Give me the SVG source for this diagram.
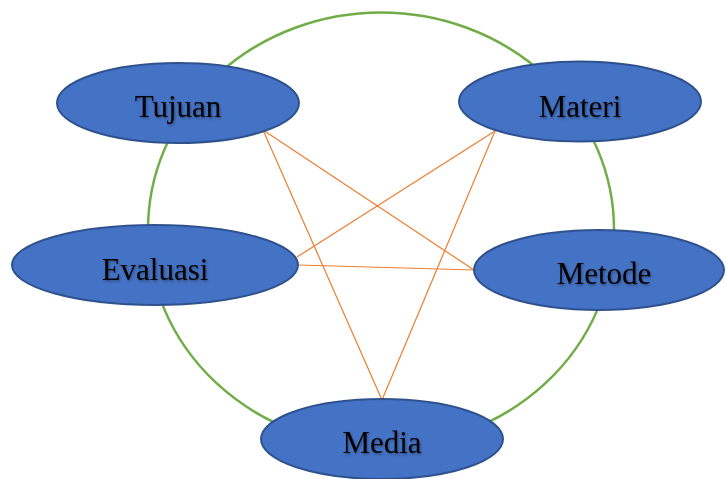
<svg xmlns="http://www.w3.org/2000/svg" width="726" height="479" viewBox="0 0 726 479">
<defs>
<style>
.ring{fill:none;stroke:#70AD47;stroke-width:2.5}
.edge{stroke:#ED7D31;stroke-width:1.2;fill:none}
.node ellipse{fill:#4472C4;stroke:#2F528F;stroke-width:2}
.node text{font-family:"Liberation Serif","Times New Roman",serif;font-size:31px;fill:#000;text-anchor:middle;filter:url(#sh)}
</style>
<filter id="sh" x="-10%" y="-20%" width="130%" height="150%">
<feDropShadow dx="1" dy="1.5" stdDeviation="0.8" flood-color="#000" flood-opacity="0.35"/>
</filter>
</defs>
<rect width="726" height="479" fill="#fff"/>
<ellipse class="ring" cx="381" cy="229.5" rx="233" ry="217"/>
<g id="connectors">
<line class="edge" x1="263" y1="130" x2="474" y2="270"/>
<line class="edge" x1="263" y1="130" x2="382" y2="400"/>
<line class="edge" x1="495" y1="131" x2="297" y2="257"/>
<line class="edge" x1="495" y1="131" x2="382" y2="400"/>
<line class="edge" x1="299" y1="265" x2="474" y2="270"/>
</g>
<g id="tujuan" class="node"><ellipse cx="178" cy="103" rx="121" ry="40"/><text x="178" y="117">Tujuan</text></g>
<g id="materi" class="node"><ellipse cx="580" cy="101.5" rx="121" ry="40"/><text x="580" y="117">Materi</text></g>
<g id="evaluasi" class="node"><ellipse cx="155" cy="265" rx="143" ry="40"/><text x="155" y="280">Evaluasi</text></g>
<g id="metode" class="node"><ellipse cx="599" cy="270" rx="125" ry="40"/><text x="604" y="284">Metode</text></g>
<g id="media" class="node"><ellipse cx="382" cy="439" rx="121" ry="40"/><text x="382" y="453">Media</text></g>
</svg>
